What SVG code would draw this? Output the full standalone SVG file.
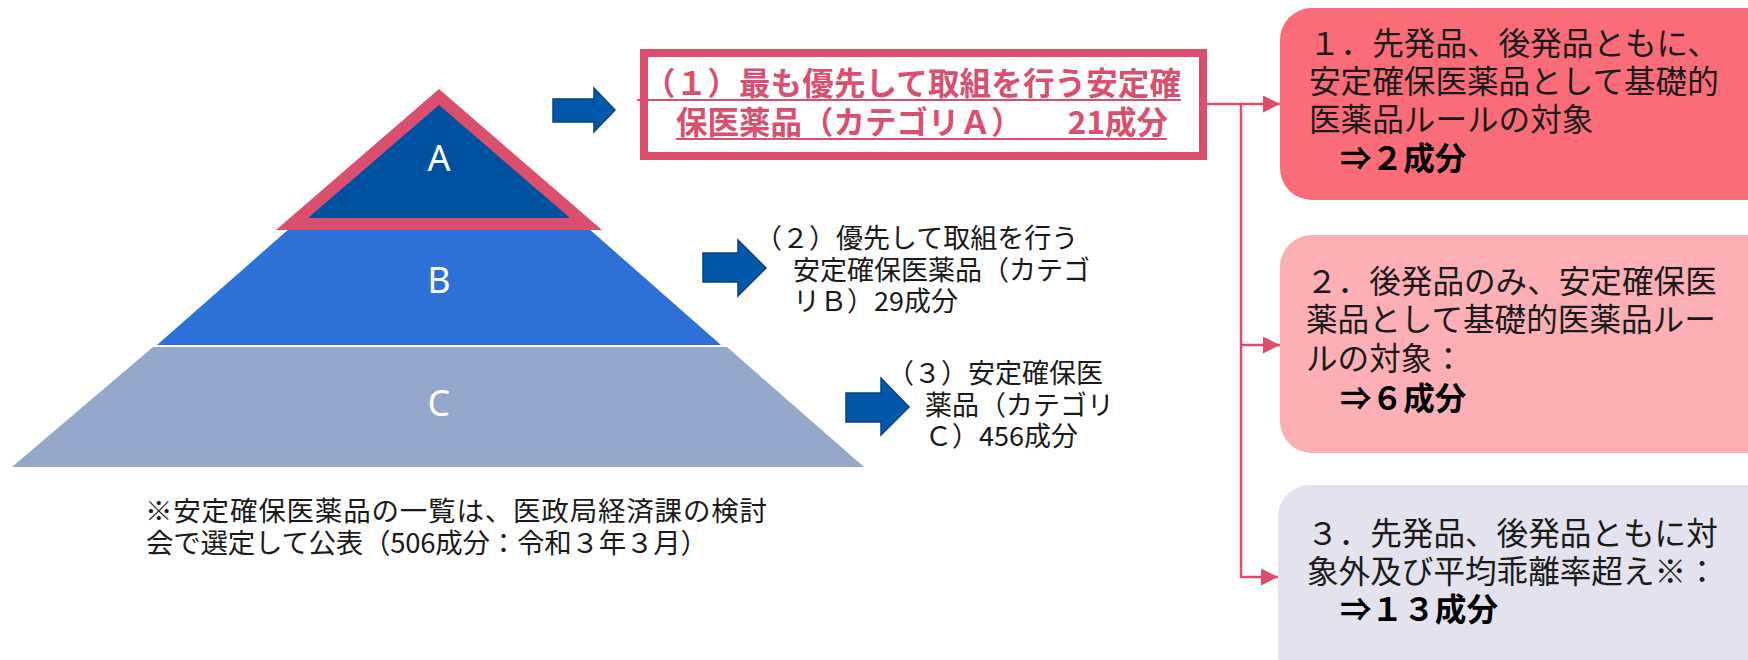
<svg xmlns="http://www.w3.org/2000/svg" width="1748" height="660" viewBox="0 0 1748 660">
<style>
text{font-family:"Noto Sans CJK JP","Noto Sans",sans-serif;}
.lvl{font-family:"Noto Sans","DejaVu Sans",sans-serif;font-size:36px;fill:#fff;text-anchor:middle;}
.cat{font-size:31.5px;font-weight:bold;fill:#DB4F6E;}
.lbl{font-size:27px;fill:#1a1a1a;}
.bx{font-size:31.6px;fill:#1a1a1a;}
.bb{font-weight:bold;fill:#000;}
.note{font-size:27.5px;fill:#1a1a1a;}
.blk{fill:#0058AA;stroke:#0E3F7C;stroke-width:1.5;}
.con{fill:none;stroke:#DB4F6E;stroke-width:2.5;}
.ul{stroke:#DB4F6E;stroke-width:2;}
</style>
<defs>
<marker id="ah" markerUnits="userSpaceOnUse" markerWidth="18" markerHeight="18" refX="17" refY="8.5" orient="auto">
<path d="M0,0 L17,8.5 L0,17 Z" fill="#DB4F6E"/>
</marker>
</defs>
<rect width="1748" height="660" fill="#fff"/>

<g id="level-C">
<polygon points="153,347 727,347 864,467 12,467" fill="#96A7CC"/>
<text class="lvl" x="439" y="416">C</text>
</g>
<g id="level-B">
<polygon points="290,228 588,228 721,345 157,345" fill="#2D70D6"/>
<text class="lvl" x="439" y="293">B</text>
</g>
<g id="level-A">
<polygon points="439,89 602,230 276,230" fill="#DB4F6E"/>
<polygon points="439,105 570,218 308,218" fill="#0052A0"/>
<text class="lvl" x="439" y="171">A</text>
</g>

<g id="category-A">
<rect x="644" y="53" width="559" height="103" fill="#fff" stroke="#DB4F6E" stroke-width="8"/>
<text class="cat" x="644" y="95" textLength="537" lengthAdjust="spacing">（１）最も優先して取組を行う安定確</text>
<text class="cat" x="676" y="134">保医薬品（カテゴリＡ）</text>
<text class="cat" x="1168" y="134" text-anchor="end">21成分</text>
<line class="ul" x1="637" y1="100" x2="1181" y2="100"/>
<line class="ul" x1="676" y1="139" x2="1167" y2="139"/>
</g>

<g id="category-B">
<text class="lbl" x="755" y="248">（２）優先して取組を行う</text>
<text class="lbl" x="793" y="280">安定確保医薬品（カテゴ</text>
<text class="lbl" x="793" y="311">リＢ）29成分</text>
</g>

<g id="category-C">
<text class="lbl" x="887" y="383">（３）安定確保医</text>
<text class="lbl" x="925" y="415">薬品（カテゴリ</text>
<text class="lbl" x="925" y="446">Ｃ）456成分</text>
</g>

<g id="result-1">
<rect x="1280" y="8" width="520" height="192" rx="32" fill="#F96C78"/>
<text class="bx" x="1309" y="55">１．先発品、後発品ともに、</text>
<text class="bx" x="1309" y="93">安定確保医薬品として基礎的</text>
<text class="bx" x="1309" y="131">医薬品ルールの対象</text>
<text class="bx bb" x="1340" y="170">⇒２成分</text>
</g>

<g id="result-2">
<rect x="1280" y="235" width="520" height="218" rx="32" fill="#FCB0B6"/>
<text class="bx" x="1306" y="293">２．後発品のみ、安定確保医</text>
<text class="bx" x="1306" y="331">薬品として基礎的医薬品ルー</text>
<text class="bx" x="1306" y="370">ルの対象：</text>
<text class="bx bb" x="1340" y="410">⇒６成分</text>
</g>

<g id="result-3">
<rect x="1278" y="485" width="520" height="240" rx="32" fill="#E3E2EE"/>
<text class="bx" x="1307" y="545">３．先発品、後発品ともに対</text>
<text class="bx" x="1307" y="583">象外及び平均乖離率超え※：</text>
<text class="bx bb" x="1340" y="621">⇒１３成分</text>
</g>

<g id="footnote">
<text class="note" x="145" y="521" textLength="622" lengthAdjust="spacing">※安定確保医薬品の一覧は、医政局経済課の検討</text>
<text class="note" x="146" y="553" textLength="562" lengthAdjust="spacing">会で選定して公表（506成分：令和３年３月）</text>
</g>

<g id="connectors">
<path class="blk" d="M553,99 H594 V88 L615,110 L594,132 V122 H553 Z"/>
<path class="blk" d="M703,253 H738 V240 L766,268 L738,296 V282 H703 Z"/>
<path class="blk" d="M846,393 H881 V378 L909,407 L881,435 V422 H846 Z"/>
<path class="con" d="M1207,104 H1280" marker-end="url(#ah)"/>
<path class="con" d="M1241,104 V577 H1278" marker-end="url(#ah)"/>
<path class="con" d="M1241,345 H1280" marker-end="url(#ah)"/>
</g>
</svg>
